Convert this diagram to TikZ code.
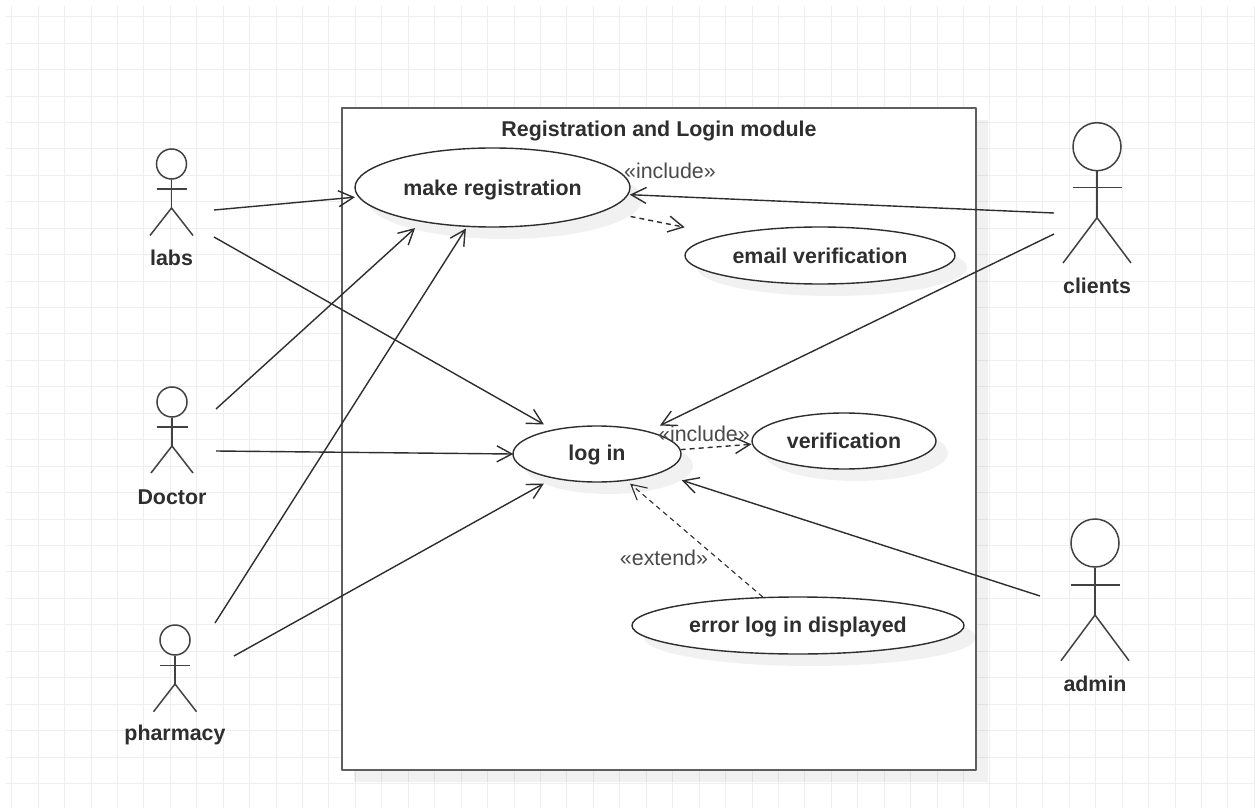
\documentclass[tikz,border=0pt]{standalone}
\usepackage{fontspec}
\setmainfont{Liberation Sans}
\usetikzlibrary{arrows.meta,shapes.geometric,shadows}
\definecolor{gridc}{HTML}{EEEEEE}
\definecolor{framec}{HTML}{5E5E5E}
\definecolor{inkc}{HTML}{2E2E2E}
\definecolor{stereoc}{HTML}{4A4A4A}
\tikzset{
  softshadow/.style={drop shadow={shadow xshift=12pt,shadow yshift=-12pt,fill=black,opacity=.055}},
  sysframe/.style={draw=framec,line width=2.3pt,fill=white,rectangle,inner sep=0pt,softshadow,line join=round},
  usecase/.style={ellipse,draw=inkc,line width=1.4pt,fill=white,inner sep=0pt,softshadow,text=inkc,font=\fontsize{21.4}{24}\selectfont\bfseries},
  actorlabel/.style={text=inkc,inner sep=0pt,font=\fontsize{21.4}{24}\selectfont\bfseries},
  titletext/.style={text=inkc,inner sep=0pt,font=\fontsize{21.4}{24}\selectfont\bfseries},
  stereo/.style={text=stereoc,inner sep=0pt,font=\fontsize{21.4}{24}\selectfont},
  head/.style={circle,draw=framec!70!black,line width=1.5pt,fill=white,inner sep=0pt},
  limb/.style={draw=framec!70!black,line width=1.5pt},
  barb/.style={-{Straight Barb[length=15pt,width=16pt]}},
  assoc/.style={barb,draw=inkc,line width=1.4pt},
  depend/.style={barb,draw=inkc,line width=1.4pt,dash pattern=on 5pt off 4pt},
  extendline/.style={barb,draw=inkc,line width=1.1pt,dash pattern=on 5pt off 4pt},
}
% name, cx, head cy, radius, arm y, arm half width, hip y, foot y, foot half width
\newcommand{\stickfigure}[9]{%
  \node[head,minimum size=#4*2pt] (#1) at (#2,#3) {};
  \draw[limb] (#1.south) -- (#2,#7);
  \draw[limb] (#2-#6,#5) -- (#2+#6,#5);
  \draw[limb] (#2-#9,#8) -- (#2,#7) -- (#2+#9,#8);
}
\begin{document}
\begin{tikzpicture}[x=1pt,y=-1pt]
\useasboundingbox (0,0) rectangle (1255,810);
\fill[white] (0,0) rectangle (1255,810);
% grid
\foreach \k in {0,...,47} \draw[gridc,line width=1pt] ({11.7+26.44*\k},6) -- ({11.7+26.44*\k},808);
\foreach \k in {0,...,29} \draw[gridc,line width=1pt] (6,{16.7+26.44*\k}) -- (1254,{16.7+26.44*\k});
% system boundary
\node[sysframe,minimum width=634pt,minimum height=662pt] (sys) at (659,439) {};
\node[titletext] (title) at (659,131.5) {Registration and Login module};
% use cases
\node[usecase,minimum width=275pt,minimum height=79pt,text height=20pt,text depth=4pt] (mr) at (492.5,187.5) {make registration};
\node[usecase,minimum width=270pt,minimum height=57pt] (email) at (820,255.5) {email verification};
\node[usecase,minimum width=168pt,minimum height=56pt,text height=17.4pt,text depth=4.5pt] (login) at (597,454) {log in};
\node[usecase,minimum width=184pt,minimum height=56pt] (verif) at (844,441) {verification};
\node[usecase,minimum width=332pt,minimum height=57pt,text height=19.4pt,text depth=4.5pt] (err) at (798,625.5) {error log in displayed};
% actors
\stickfigure{labs}{171.5}{164}{15}{189}{15}{208}{235.5}{21.5}
\stickfigure{doctor}{172}{402}{15}{427}{15.5}{446}{473}{21}
\stickfigure{pharmacy}{175}{640}{15}{665.7}{15}{684}{711.7}{21.5}
\stickfigure{clients}{1097}{146.7}{24}{187.7}{24.5}{217.7}{263}{34}
\stickfigure{admin}{1095}{543}{24}{585}{24.5}{615}{660.7}{34}
\node[actorlabel] (labsL) at (171.5,258) {labs};
\node[actorlabel] (doctorL) at (172,497) {Doctor};
\node[actorlabel] (pharmacyL) at (175,735) {pharmacy};
\node[actorlabel] (clientsL) at (1097,286) {clients};
\node[actorlabel] (adminL) at (1095,684) {admin};
% free ends of connectors
\coordinate (labsA) at (214,210);
\coordinate (labsB) at (214,237);
\coordinate (doctorA) at (216,409);
\coordinate (doctorB) at (216,451);
\coordinate (pharmA) at (215,623);
\coordinate (pharmB) at (234,656);
\coordinate (clientsA) at (1054,213);
\coordinate (clientsB) at (1054,234);
\coordinate (adminA) at (1040,596);
% associations
\draw[assoc,shorten >=3.2pt] (labsA) -- (mr.184.6);
\draw[assoc,shorten >=10.2pt] (labsB) -- (login.151.1);
\draw[assoc,shorten >=9pt] (doctorA) -- (mr.206.2);
\draw[assoc,shorten >=-1pt] (doctorB) -- (login.180);
\draw[assoc,shorten >=1.8pt] (pharmA) -- (mr.237.4);
\draw[assoc,shorten >=10.3pt] (pharmB) -- (login.209);
\draw[assoc,shorten >=1.3pt] (clientsA) -- (mr.357.3);
\draw[assoc,shorten >=12.9pt] (clientsB) -- (login.24.9);
\draw[assoc,shorten >=23pt] (adminA) -- (login.343.3);
% dependencies
\draw[depend,shorten <=27pt,shorten >=39.5pt] (mr.348.5) -- (email.168.5);
\draw[depend,shorten >=0.5pt] (login.3.4) -- (verif.182.2);
\draw[extendline,shorten >=4.3pt] (err.141.3) -- (login.318.5);
% stereotypes
\node[stereo] (inc1) at (670,171) {«include»};
\node[stereo] (inc2) at (704,434) {«include»};
\node[stereo] (ext) at (664,558) {«extend»};
\end{tikzpicture}
\end{document}
